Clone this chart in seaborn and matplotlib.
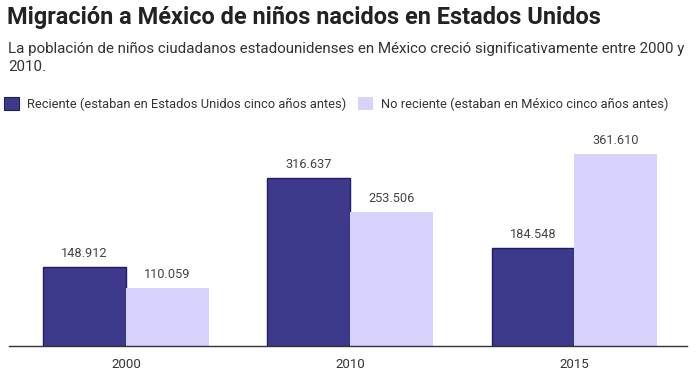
import matplotlib.pyplot as plt
import matplotlib.patches as mpatches
import pandas as pd
import seaborn as sns

# data
years = ['2000', '2010', '2015']
reciente = [148912, 316637, 184548]
no_reciente = [110059, 253506, 361610]
series_names = ['Reciente (estaban en Estados Unidos cinco años antes)',
                'No reciente (estaban en México cinco años antes)']
series_colors = ['#3d3a8c', '#d8d3fc']

df = pd.DataFrame({
    'year': years * 2,
    'value': reciente + no_reciente,
    'serie': [series_names[0]] * len(years) + [series_names[1]] * len(years),
})

sns.set_theme(style='white')
plt.rcParams['font.family'] = ['Roboto', 'DejaVu Sans']

fig = plt.figure(figsize=(7, 3.77), dpi=100)
ax = fig.add_axes([9 / 700, 31 / 377, 678 / 700, 212 / 377])

sns.barplot(data=df, x='year', y='value', hue='serie', palette=series_colors,
            width=0.737, saturation=1, ax=ax, legend=False)

# dark outline on the 'reciente' bars only
for cont, edge in zip(ax.containers, ['#1f1c6e', 'none']):
    for bar in cont:
        bar.set_edgecolor(edge)
        bar.set_linewidth(1 if edge != 'none' else 0)
    ax.bar_label(cont, labels=['{:,}'.format(int(v.get_height())).replace(',', '.') for v in cont],
                 padding=5, fontsize=9.2, color='#444444')

ax.set_xlim(-0.522, 2.504)
ax.set_ylim(0, 400000)
ax.set_xlabel('')
ax.set_ylabel('')
ax.set_yticks([])
sns.despine(ax=ax, left=True, top=True, right=True)
ax.spines['bottom'].set_color('#333333')
ax.spines['bottom'].set_linewidth(1)
ax.tick_params(axis='x', length=0, pad=9, labelsize=9.5, labelcolor='#333333')

# titles
fig.text(7 / 700, 1 - 17 / 377, 'Migración a México de niños nacidos en Estados Unidos',
         fontsize=16.9, fontweight='bold', color='#222222', va='center', ha='left')
fig.text(8 / 700, 1 - 42 / 377,
         'La población de niños ciudadanos estadounidenses en México creció significativamente entre 2000 y\n2010.',
         fontsize=10.9, color='#333333', va='top', ha='left', linespacing=1.35)

# legend
handles = [mpatches.Patch(facecolor=c, edgecolor=e, linewidth=0.8) for c, e in zip(series_colors, ['#1f1c6e', 'none'])]
fig.legend(handles, series_names, loc='center left', bbox_to_anchor=(0.0, 1 - 104 / 377), ncol=2,
           frameon=False, fontsize=9.25, labelcolor='#333333', handlelength=1.2, handleheight=1.2,
           handletextpad=0.6, columnspacing=0.9, borderaxespad=0, borderpad=0.3)

fig.savefig('out.png', dpi=100)
